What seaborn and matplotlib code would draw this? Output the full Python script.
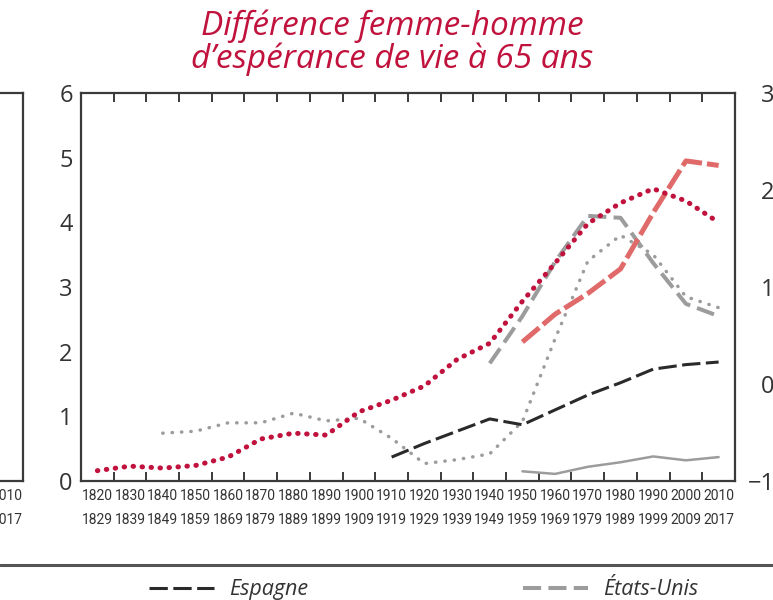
import matplotlib
matplotlib.use('Agg')
import matplotlib.pyplot as plt
import seaborn as sns
import pandas as pd
from matplotlib.lines import Line2D

# decades shown on the x axis
period_start = [1820, 1830, 1840, 1850, 1860, 1870, 1880, 1890, 1900, 1910,
                1920, 1930, 1940, 1950, 1960, 1970, 1980, 1990, 2000, 2010]
period_end = [1829, 1839, 1849, 1859, 1869, 1879, 1889, 1899, 1909, 1919,
              1929, 1939, 1949, 1959, 1969, 1979, 1989, 1999, 2009, 2017]

# gap between women and men life expectancy at 65 (years)
red_dotted = [0.16, 0.23, 0.20, 0.24, 0.37, 0.65, 0.74, 0.71, 1.07, 1.25,
              1.47, 1.88, 2.13, 2.78, 3.37, 3.98, 4.30, 4.52, 4.33, 4.00]
red_dashed = [None] * 13 + [2.15, 2.58, 2.90, 3.28, 4.15, 4.95, 4.88]
etats_unis = [None] * 12 + [1.82, 2.55, 3.39, 4.10, 4.07, 3.37, 2.74, 2.55]
gray_dotted = [None, None, 0.74, 0.77, 0.90, 0.90, 1.05, 0.93, 0.97, 0.66,
               0.27, 0.33, 0.42, 0.92, 2.20, 3.40, 3.80, 3.50, 2.85, 2.68]
espagne = [None] * 9 + [0.37, 0.58, 0.77, 0.96, 0.87, 1.10, 1.33, 1.52, 1.73, 1.80, 1.84]
gray_solid = [None] * 13 + [0.15, 0.11, 0.22, 0.29, 0.38, 0.32, 0.37]

sns.set_style('white')
plt.rcParams['font.family'] = ['Open Sans', 'DejaVu Sans']

RED = '#c0123c'
LIGHT_RED = '#e06a6a'
GRAY = '#9c9c9c'
DARK = '#2a2a2a'
SPINE = '#3a3a3a'
TXT = '#333333'

x = list(range(len(period_start)))
xlabels = [f'{a}\n{b}' for a, b in zip(period_start, period_end)]

fig = plt.figure(figsize=(7.73, 6.0), dpi=100)
box = [0.1048, 0.1983, 0.846, 0.6467]
ax = fig.add_axes(box)
ax_left = fig.add_axes([box[0] - 0.846 - 0.0751, box[1], box[2], box[3]])
ax_right = fig.add_axes([1.013, box[1], box[2], box[3]])


def draw(values, **kw):
    df = pd.DataFrame({'x': x, 'y': values}).dropna()
    sns.lineplot(data=df, x='x', y='y', ax=ax, legend=False, **kw)
    return ax.lines[-1]


draw(gray_solid, color=GRAY, linewidth=1.8)
draw(gray_dotted, color=GRAY, linewidth=2.5, linestyle=(0, (0.1, 2.6)),
     dash_capstyle='round')
l_esp = draw(espagne, color=DARK, linewidth=2.2, linestyle=(0, (6.0, 1.8)))
l_us = draw(etats_unis, color=GRAY, linewidth=2.9, linestyle=(0, (4.5, 1.8)))
draw(red_dashed, color=LIGHT_RED, linewidth=3.6, linestyle=(0, (4.4, 1.0)))
draw(red_dotted, color=RED, linewidth=3.6, linestyle=(0, (0.1, 1.7)),
     dash_capstyle='round')

narrow = dict(family=['Roboto', 'DejaVu Sans'], size=10,
              color=TXT, linespacing=1.9)

for a in (ax, ax_left):
    a.set_xlim(-0.5, 19.5)
    a.set_xticks([i + 0.5 for i in x[:-1]], minor=True)
    a.tick_params(axis='x', which='major', length=0, pad=6)
    a.tick_params(axis='x', which='minor', direction='in', length=6.5,
                  width=1.4, color=SPINE, top=True, bottom=True)
    a.set_xlabel('')
    a.set_ylabel('')

ax.set_xticks(x)
ax.set_xticklabels(xlabels, **narrow)
# only the last label of the neighbouring panel reaches into the picture
ax_left.set_xticks(x[-1:])
ax_left.set_xticklabels(xlabels[-1:], **narrow)

ax.set_ylim(0, 6)
ax.set_yticks(range(0, 7))
ax.tick_params(axis='y', direction='in', length=5, width=1.4, color=SPINE,
               labelsize=17, labelcolor=TXT, pad=6, right=False)

ax_left.set_ylim(0, 6)
ax_left.set_yticks([])

ax_right.set_ylim(-1, 3)
ax_right.set_yticks(range(-1, 4))
ax_right.set_xticks([])
ax_right.tick_params(axis='y', direction='in', length=5, width=1.4, color=SPINE,
                     labelsize=17, labelcolor=TXT, pad=6)

for a in (ax, ax_left, ax_right):
    for s in a.spines.values():
        s.set_color(SPINE)
        s.set_linewidth(1.6)

fig.text(0.507, 0.929, 'Différence femme-homme\nd\u2019espérance de vie à 65 ans',
         ha='center', va='center', fontsize=24, style='italic', color=RED,
         linespacing=0.98)

fig.add_artist(Line2D([0, 1], [0.0585, 0.0585], transform=fig.transFigure,
                      color='#555555', linewidth=2.2))

fig.legend([l_esp, l_us], ['Espagne', 'États-Unis'], loc='center',
           bbox_to_anchor=(0.548, 0.017), ncol=2, frameon=False,
           handlelength=3.0, handletextpad=0.7, columnspacing=10.0,
           prop=dict(size=15.5, style='italic'), labelcolor=TXT)

fig.savefig('out.png', dpi=100)
